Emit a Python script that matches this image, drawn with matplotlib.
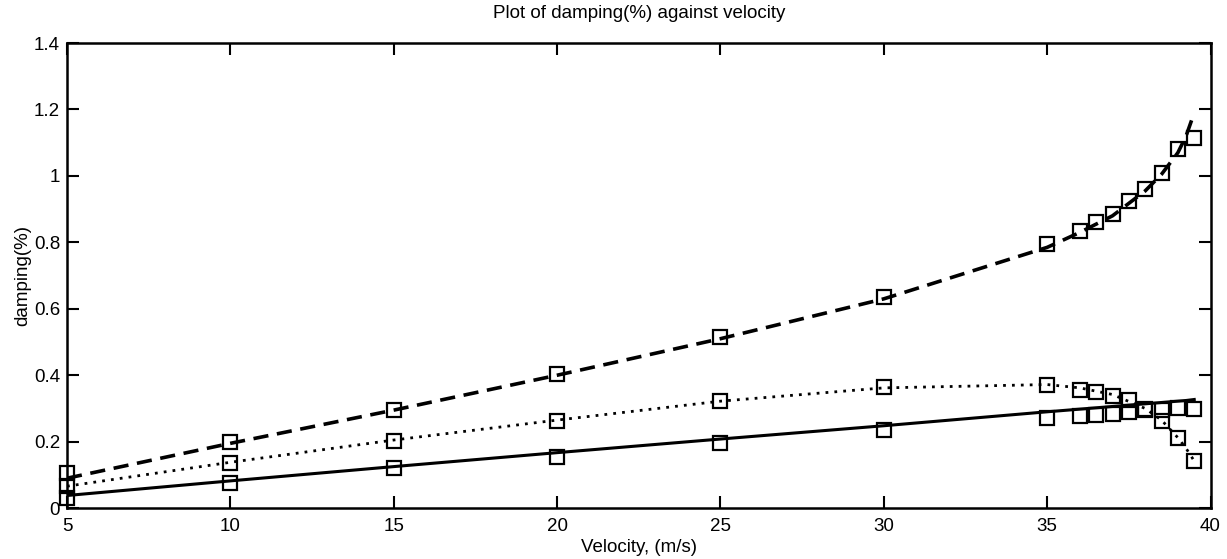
import matplotlib
matplotlib.use("Agg")
import matplotlib.pyplot as plt

plt.rcParams['font.family'] = ['Liberation Sans', 'DejaVu Sans']

# measured data (velocity, damping %)
velocity = [5, 10, 15, 20, 25, 30, 35, 36, 36.5, 37, 37.5, 38, 38.5, 39, 39.5]
damp_dashed = [0.105, 0.20, 0.295, 0.405, 0.515, 0.635, 0.795, 0.835, 0.86, 0.885, 0.925, 0.96, 1.01, 1.08, 1.115]
damp_dotted = [0.066, 0.135, 0.203, 0.262, 0.322, 0.365, 0.37, 0.357, 0.35, 0.338, 0.326, 0.297, 0.263, 0.212, 0.142]
damp_solid = [0.03, 0.076, 0.12, 0.155, 0.195, 0.235, 0.27, 0.276, 0.279, 0.284, 0.29, 0.296, 0.296, 0.30, 0.297]

# fitted curves
fit_velocity = [5, 10, 15, 20, 25, 30, 35, 36, 37, 38, 38.5, 39, 39.25, 39.5]
fit_dashed = [0.09, 0.195, 0.295, 0.40, 0.51, 0.63, 0.785, 0.83, 0.88, 0.955, 1.005, 1.07, 1.12, 1.19]
fit_dotted = [0.066, 0.138, 0.205, 0.265, 0.322, 0.362, 0.372, 0.362, 0.342, 0.30, 0.265, 0.212, 0.18, 0.142]
fit_solid = [0.038, 0.082, 0.125, 0.167, 0.208, 0.248, 0.29, 0.298, 0.306, 0.314, 0.318, 0.322, 0.324, 0.327]

xticks = [5, 10, 15, 20, 25, 30, 35, 40]
yticks = [0, 0.2, 0.4, 0.6, 0.8, 1.0, 1.2, 1.4]
ytick_labels = ["0", "0.2", "0.4", "0.6", "0.8", "1", "1.2", "1.4"]

fig = plt.figure(figsize=(12.27, 5.59), dpi=100)
ax = fig.add_axes([0.0546, 0.091, 0.932, 0.832])

ax.plot(fit_velocity, fit_dashed, color='black', lw=2.6, linestyle=(0, (4.2, 2.4)))
ax.plot(fit_velocity, fit_dotted, color='black', lw=2.0, linestyle=(0, (1, 2.2)))
ax.plot(fit_velocity, fit_solid, color='black', lw=2.2, linestyle='-')

mk = dict(linestyle='none', marker='s', ms=9.5, mfc='none', mec='black', mew=1.6, clip_on=False)
ax.plot(velocity, damp_dashed, **mk)
ax.plot(velocity, damp_dotted, **mk)
ax.plot(velocity, damp_solid, **mk)

ax.set_xlim(5, 40)
ax.set_ylim(0, 1.4)
ax.set_xticks(xticks)
ax.set_xticklabels([str(t) for t in xticks])
ax.set_yticks(yticks)
ax.set_yticklabels(ytick_labels)
ax.tick_params(direction='in', length=8.5, width=1.5, labelsize=13.5,
               top=True, right=True)
ax.tick_params(axis='x', pad=7)
ax.tick_params(axis='y', pad=5)
for s in ax.spines.values():
    s.set_linewidth(1.8)

ax.set_title("Plot of damping(%) against velocity", fontsize=13.5, pad=18)
ax.set_xlabel("Velocity, (m/s)", fontsize=13.5, labelpad=3)
ax.set_ylabel("damping(%)", fontsize=13.5, labelpad=2)

fig.savefig("out.png", dpi=100)
